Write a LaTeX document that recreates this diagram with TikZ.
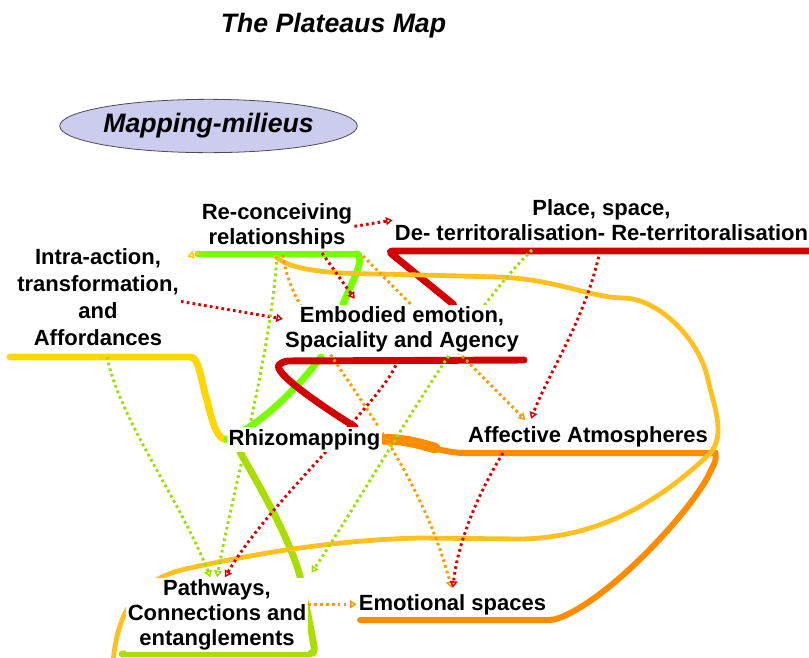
\documentclass[tikz,border=0pt]{standalone}
\usepackage{fontspec}
\setmainfont{Liberation Sans}
\usetikzlibrary{arrows.meta,shapes.geometric,backgrounds}

\definecolor{limeline}{HTML}{77FF00}
\definecolor{ygline}{HTML}{AADD00}
\definecolor{redline}{HTML}{D40000}
\definecolor{orangeline}{HTML}{FF8C00}
\definecolor{goldline}{HTML}{FFD700}
\definecolor{amberline}{HTML}{FFC020}
\definecolor{lavender}{HTML}{CCCCEE}
\definecolor{redlink}{HTML}{DD0000}
\definecolor{orangelink}{HTML}{FF9900}
\definecolor{yglink}{HTML}{99E000}
\definecolor{goldlink}{HTML}{FFCC00}

\newcommand\labfont{\fontsize{16.5}{18.75}\selectfont\bfseries}
\newcommand\headfont{\fontsize{20}{24}\selectfont\bfseries\itshape}

\tikzset{
  lab/.style={font=\labfont,align=center,fill=white,inner sep=1.5pt},
  branch/.style={line width=5.2pt,line cap=round,rounded corners=4pt},
  link/.style={line width=2.2pt,dash pattern=on 2pt off 2.4pt,
    -{Triangle[open,length=5pt,width=6pt,line width=1.1pt]}},
}

\begin{document}
\begin{tikzpicture}[x=0.75pt,y=-0.75pt]
  \useasboundingbox (0,0) rectangle (809,657);

  % headings
  \node[font=\headfont,anchor=base] (title) at (333.5,32) {The Plateaus Map};
  \node[ellipse,draw=black!70,fill=lavender,line width=0.6pt,minimum width=215pt,
    minimum height=40pt,inner sep=0pt,font=\headfont] (milieus) at (208.5,126) {Mapping-milieus};

  % plateaus
  \node[lab,anchor=north] (reconc) at (277,201.3) {Re-conceiving\\relationships};
  \node[lab,anchor=north] (place) at (601.5,197.3) {Place, space,\\De- territoralisation- Re-territoralisation};
  \node[lab,anchor=north] (intra) at (98,246.3) {Intra-action,\\[1.5pt]transformation,\\[1.5pt]and\\[1.5pt]Affordances};
  \node[lab,anchor=north] (embod) at (402,304.3) {Embodied emotion,\\Spaciality and Agency};
  \node[lab,anchor=base] (rhizo) at (304.5,445) {Rhizomapping};
  \node[lab,anchor=base] (affect) at (588,442) {Affective Atmospheres};
  \node[lab,anchor=north] (path) at (217,577.3) {Pathways,\\Connections and\\entanglements};
  \node[lab,anchor=base] (emot) at (452.5,610) {Emotional spaces};

  % free ends on the underlines
  \coordinate (intra-u) at (10,357);
  \coordinate (intra-b) at (107,357);
  \coordinate (reconc-u) at (198,254);
  \coordinate (reconc-a) at (199,253);
  \coordinate (reconc-b) at (277,256);
  \coordinate (reconc-h) at (276,257);
  \coordinate (reconc-c) at (283,255);
  \coordinate (reconc-d) at (322,253);
  \coordinate (reconc-e) at (363,256);
  \coordinate (place-u) at (809,251);
  \coordinate (place-a) at (532,250);
  \coordinate (place-b) at (600,251);
  \coordinate (embod-u) at (321,357);
  \coordinate (embod-b) at (398,360);
  \coordinate (affect-b) at (503,453);
  \coordinate (path-u) at (122,654);
  \coordinate (path-v) at (113,662);
  \coordinate (emot-u) at (360,620);

  \begin{scope}[on background layer]
    % branches
    \draw[branch,goldline] (intra-u) -- (185,357) .. controls (199,357) and (201,380) .. (207,400)
      .. controls (213,425) and (218,440) .. (rhizo.west);
    \draw[branch,limeline] (reconc-u) -- (352,254) .. controls (360,254) and (360,262) .. (357,272) -- (embod.157);
    \draw[branch,limeline] (embod-u) .. controls (300,385) and (262,425) .. (rhizo.west);
    \draw[branch,redline] (rhizo.14) .. controls (320,405) and (272,372) .. (283,361) -- (524,360);
    \draw[branch,redline] (embod.26) -- (388,251) -- (place-u);
    \draw[branch,ygline] (rhizo.-169) .. controls (262,490) and (290,540) .. (301,580) -- (313,640) -- (315,654) -- (path-u);
    \draw[orangeline,line width=8pt,line cap=round] (rhizo.east) .. controls (405,439) and (420,444) .. (435,448);
    \draw[branch,orangeline,line width=4.5pt] (rhizo.east) .. controls (410,439) and (440,453) .. (470,453) -- (710,453)
      .. controls (716,453) and (716,460) .. (712,468) .. controls (695,505) and (620,590) .. (560,618)
      .. controls (552,620) and (548,620) .. (540,620) -- (emot-u);
    \draw[amberline,line width=3.6pt,line cap=round] (reconc-h) .. controls (290,270) and (330,274) .. (380,274) -- (500,277)
      .. controls (560,280) and (590,298) .. (625,298) .. controls (660,300) and (700,340) .. (708,380)
      .. controls (715,410) and (728,440) .. (705,458) .. controls (660,500) and (600,538) .. (520,539) -- (420,538)
      .. controls (330,540) and (250,555) .. (190,568) .. controls (130,580) and (117,620) .. (path-v);

    % links
    \draw[link,redlink] (reconc.east) -- (place.west);
    \draw[link,redlink] (intra.-3) -- (embod.175);
    \draw[link,redlink,shorten >=5pt] (reconc-d) -- (embod.150);
    \draw[link,orangelink,shorten >=4pt] (reconc-e) -- (affect.168);
    \draw[link,redlink,shorten >=4pt] (place-b) .. controls (585,320) and (550,370) .. (affect.168);
    \draw[link,orangelink,shorten >=3pt] (reconc-c) .. controls (290,330) and (410,430) .. (emot.north);
    \draw[link,redlink] (embod-b) .. controls (385,400) and (270,500) .. (path.78);
    \draw[link,redlink,shorten >=3pt] (affect-b) .. controls (480,490) and (458,540) .. (emot.north);
    \draw[link,orangelink] (path.east |- emot.west) -- (emot.west);
    \draw[link,yglink] (intra-b) .. controls (120,420) and (180,500) .. (path.100);
    \draw[link,yglink] (reconc-b) .. controls (270,360) and (235,480) .. (path.90);
    \draw[link,yglink,shorten >=4pt] (place-a) .. controls (460,320) and (380,470) .. (path.north east);
    \draw[link,goldlink,shorten >=5pt] (reconc-a) -- (intra.25);
  \end{scope}
\end{tikzpicture}
\end{document}
